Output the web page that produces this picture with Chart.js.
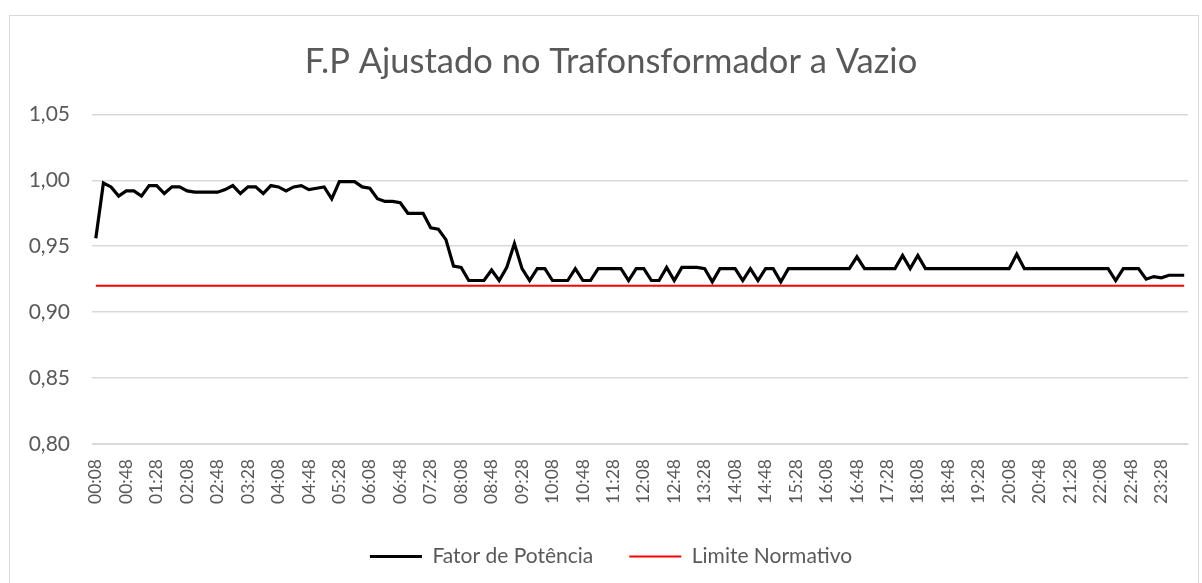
<!DOCTYPE html>
<html>
<head>
<meta charset="utf-8">
<script src="https://cdn.jsdelivr.net/npm/chart.js@4.4.1/dist/chart.umd.min.js"></script>
<style>
  html, body { margin: 0; padding: 0; background: #fff; overflow: hidden; }
  #wrap { position: relative; width: 1202px; height: 583px; }
  #frame { position: absolute; left: 9px; top: 15px; width: 1188px; height: 620px; border: 1px solid #d9d9d9; }
  #chart { position: absolute; left: 0; top: 0; }
</style>
</head>
<body>
<div id="wrap">
  <div id="frame"></div>
  <canvas id="chart" width="1202" height="583"></canvas>
</div>
<script>
// categories: one reading every 10 minutes
const timeLabels = [
  "00:08","00:18","00:28","00:38","00:48","00:58",
  "01:08","01:18","01:28","01:38","01:48","01:58",
  "02:08","02:18","02:28","02:38","02:48","02:58",
  "03:08","03:18","03:28","03:38","03:48","03:58",
  "04:08","04:18","04:28","04:38","04:48","04:58",
  "05:08","05:18","05:28","05:38","05:48","05:58",
  "06:08","06:18","06:28","06:38","06:48","06:58",
  "07:08","07:18","07:28","07:38","07:48","07:58",
  "08:08","08:18","08:28","08:38","08:48","08:58",
  "09:08","09:18","09:28","09:38","09:48","09:58",
  "10:08","10:18","10:28","10:38","10:48","10:58",
  "11:08","11:18","11:28","11:38","11:48","11:58",
  "12:08","12:18","12:28","12:38","12:48","12:58",
  "13:08","13:18","13:28","13:38","13:48","13:58",
  "14:08","14:18","14:28","14:38","14:48","14:58",
  "15:08","15:18","15:28","15:38","15:48","15:58",
  "16:08","16:18","16:28","16:38","16:48","16:58",
  "17:08","17:18","17:28","17:38","17:48","17:58",
  "18:08","18:18","18:28","18:38","18:48","18:58",
  "19:08","19:18","19:28","19:38","19:48","19:58",
  "20:08","20:18","20:28","20:38","20:48","20:58",
  "21:08","21:18","21:28","21:38","21:48","21:58",
  "22:08","22:18","22:28","22:38","22:48","22:58",
  "23:08","23:18","23:28","23:38","23:48","23:58"
];

// Fator de Potência
const fatorPotencia = [
  0.956,0.998,0.995,0.988,0.992,0.992,
  0.988,0.996,0.996,0.990,0.995,0.995,
  0.992,0.991,0.991,0.991,0.991,0.993,
  0.996,0.990,0.995,0.995,0.990,0.996,
  0.995,0.992,0.995,0.996,0.993,0.994,
  0.995,0.986,0.999,0.999,0.999,0.995,
  0.994,0.986,0.984,0.984,0.983,0.975,
  0.975,0.975,0.964,0.963,0.955,0.935,
  0.934,0.924,0.924,0.924,0.932,0.924,
  0.934,0.952,0.933,0.924,0.933,0.933,
  0.924,0.924,0.924,0.933,0.924,0.924,
  0.933,0.933,0.933,0.933,0.924,0.933,
  0.933,0.924,0.924,0.934,0.924,0.934,
  0.934,0.934,0.933,0.923,0.933,0.933,
  0.933,0.924,0.933,0.924,0.933,0.933,
  0.923,0.933,0.933,0.933,0.933,0.933,
  0.933,0.933,0.933,0.933,0.942,0.933,
  0.933,0.933,0.933,0.933,0.943,0.933,
  0.943,0.933,0.933,0.933,0.933,0.933,
  0.933,0.933,0.933,0.933,0.933,0.933,
  0.933,0.944,0.933,0.933,0.933,0.933,
  0.933,0.933,0.933,0.933,0.933,0.933,
  0.933,0.933,0.924,0.933,0.933,0.933,
  0.925,0.927,0.926,0.928,0.928,0.928
];

// Limite Normativo
const limiteNormativo = 0.92;

const yTicks = [0.80, 0.85, 0.90, 0.95, 1.00, 1.05];

const FONT = "Lato, Carlito, Calibri, sans-serif";
const TEXT = "#595959";

const ctx = document.getElementById("chart").getContext("2d");
new Chart(ctx, {
  type: "line",
  data: {
    labels: timeLabels,
    datasets: [
      {
        label: "Fator de Potência",
        data: fatorPotencia,
        borderColor: "#000000",
        backgroundColor: "#000000",
        borderWidth: 3.2,
        pointRadius: 0,
        tension: 0,
      },
      {
        label: "Limite Normativo",
        data: timeLabels.map(() => limiteNormativo),
        borderColor: "#ff0000",
        backgroundColor: "#ff0000",
        borderWidth: 2,
        pointRadius: 0,
        tension: 0,
      },
    ],
  },
  options: {
    responsive: false,
    animation: false,
    // title and legend are centred a bit right of the canvas middle, as in the original
    layout: { padding: { left: 0, right: -20, top: 0, bottom: 6 } },
    plugins: {
      title: {
        display: true,
        text: "F.P Ajustado no Trafonsformador a Vazio",
        color: TEXT,
        font: { family: FONT, size: 34.5, weight: "normal" },
        padding: { top: 41.5, bottom: 31.5 },
      },
      legend: {
        position: "bottom",
        labels: {
          usePointStyle: true,
          pointStyle: "line",
          pointStyleWidth: 52,
          color: TEXT,
          font: { family: FONT, size: 21 },
          padding: 36,
        },
      },
      tooltip: { enabled: false },
    },
    scales: {
      x: {
        type: "category",
        offset: true,
        grid: { display: false, drawTicks: false },
        border: { display: true, color: "#d9d9d9" },
        ticks: {
          autoSkip: false,
          minRotation: 90,
          maxRotation: 90,
          padding: 15,
          color: TEXT,
          font: { family: FONT, size: 17.5 },
          callback: function (v, i) { return i % 4 === 0 ? timeLabels[i] : ""; },
        },
        afterFit: (s) => { s.height = 66; s.paddingLeft = 0; s.paddingRight = 0; },
      },
      y: {
        min: 0.80,
        max: 1.05,
        afterBuildTicks: (s) => { s.ticks = yTicks.map((v) => ({ value: v })); },
        grid: { color: "#d9d9d9", lineWidth: 1.5, drawTicks: false },
        border: { display: false },
        ticks: {
          padding: 22,
          color: TEXT,
          font: { family: FONT, size: 21 },
          callback: (v) => v.toFixed(2).replace(".", ","),
        },
        afterFit: (s) => { s.width = 92; },
      },
      // empty spacer on the right so the plot ends where the original does
      spacer: {
        type: "linear",
        position: "right",
        min: 0,
        max: 1,
        grid: { display: false, drawTicks: false },
        border: { display: false },
        ticks: { display: false },
        afterFit: (s) => { s.width = 34; },
      },
    },
  },
});
</script>
</body>
</html>
